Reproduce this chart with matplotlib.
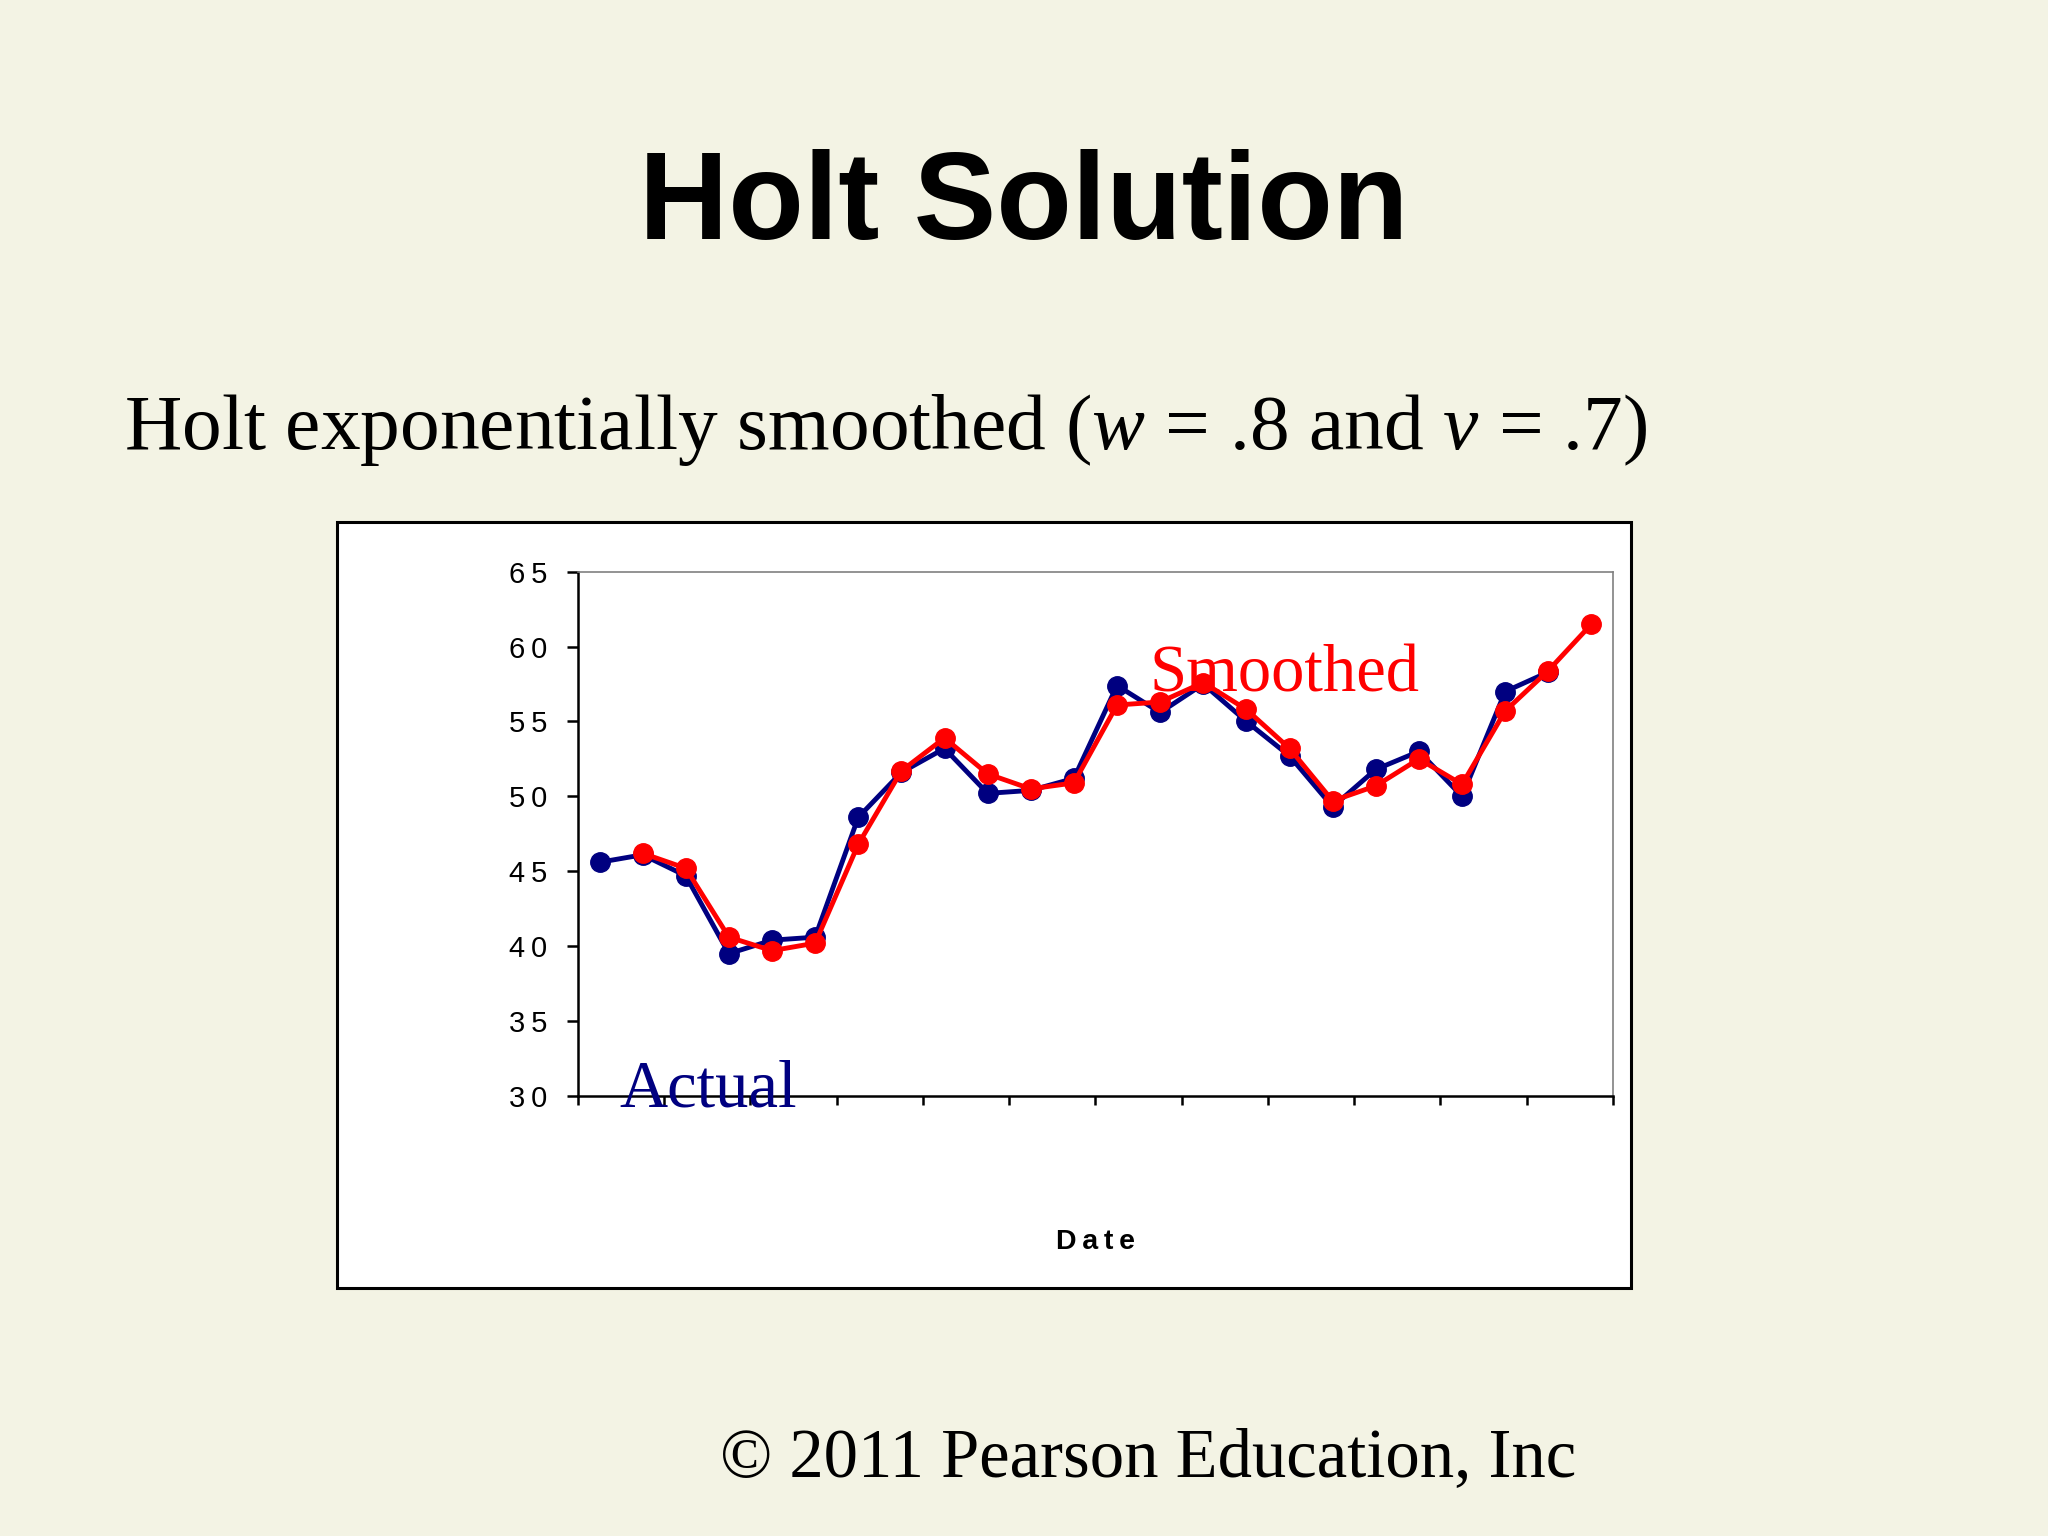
import numpy as np
import matplotlib
matplotlib.use("Agg")
import matplotlib.pyplot as plt
from matplotlib.patches import Rectangle

# -- data (24 periods, actual has no last point,
#    smoothed series starts at period 2)
periods = np.arange(1, 25)
actual = [45.6, 46.1, 44.7, 39.5, 40.4, 40.6, 48.6, 51.6, 53.2, 50.2, 50.4, 51.2,
          57.4, 55.6, 57.5, 55.0, 52.7, 49.3, 51.8, 53.0, 50.0, 57.0, 58.3, np.nan]
smoothed = [np.nan, 46.2, 45.2, 40.6, 39.7, 40.2, 46.8, 51.7, 53.9, 51.5, 50.5, 50.9,
            56.1, 56.3, 57.6, 55.8, 53.2, 49.7, 50.7, 52.5, 50.8, 55.7, 58.4, 61.5]
yticks = [30, 35, 40, 45, 50, 55, 60, 65]

bg = "#F3F3E4"
navy = "#000080"
red = "#FF0000"
thin = "\u2009"  # the chart uses loose letter spacing

plt.rcParams["mathtext.fontset"] = "custom"
plt.rcParams["mathtext.rm"] = "Liberation Serif"
plt.rcParams["mathtext.it"] = "Liberation Serif:italic"

fig = plt.figure(figsize=(20.48, 15.36), dpi=100, facecolor=bg)

# -- slide texts
fig.text(0.5, 0.8444, "Holt Solution", ha="center", va="baseline",
         fontsize=89, fontweight="bold", family="Liberation Sans")
fig.text(0.0605, 0.7077, r"Holt exponentially smoothed ($\it{w}$ = .8 and $\it{v}$ = .7)",
         ha="left", va="baseline", fontsize=57.2, family="Liberation Serif")
fig.text(0.3515, 0.0391, "\u00a9 2011 Pearson Education, Inc", ha="left", va="baseline",
         fontsize=49.4, family="Liberation Serif")

# -- white chart box behind the axes
fig.patches.append(Rectangle((0.1646, 0.1615), 0.6318, 0.4987, transform=fig.transFigure,
                             facecolor="white", edgecolor="black", linewidth=2.2, zorder=-5))

# -- the chart
ax = fig.add_axes([0.2822, 0.2865, 0.5054, 0.3413])
ax.set_zorder(2)
ax.set_facecolor("white")
x = periods - 0.5
ax.plot(x, actual, color=navy, lw=3.5, marker="o", ms=14, zorder=3)
ax.plot(x, smoothed, color=red, lw=3.5, marker="o", ms=14, zorder=4)

ax.set_xlim(0, 24)
ax.set_ylim(30, 65)
ax.set_yticks(yticks)
ax.set_yticklabels([thin.join(str(v)) for v in yticks],
                   family=["Liberation Sans", "DejaVu Sans"], fontsize=21)
ax.set_xticks(np.arange(0, 25, 2))
ax.set_xticklabels([])
ax.tick_params(axis="y", direction="out", length=8, width=1.8, pad=14)
ax.tick_params(axis="x", direction="out", length=6.5, width=1.8)

for side in ["left", "bottom"]:
    ax.spines[side].set_color("black")
    ax.spines[side].set_linewidth(1.8)
for side in ["top", "right"]:
    ax.spines[side].set_color("#808080")
    ax.spines[side].set_linewidth(1.2)

ax.set_xlabel(thin.join("Date"), family=["Liberation Sans", "DejaVu Sans"],
              fontweight="bold", fontsize=20.5)
ax.xaxis.label.set_va("baseline")
ax.xaxis.set_label_coords(0.5, -0.292)

ax.text(0.95, 29.29, "Actual", color=navy, fontsize=48, family="Liberation Serif",
        ha="left", va="baseline", zorder=5, clip_on=False)
ax.text(13.25, 56.97, "Smoothed", color=red, fontsize=48, family="Liberation Serif",
        ha="left", va="baseline", zorder=5)

fig.savefig("out.png", dpi=100, facecolor=bg)
